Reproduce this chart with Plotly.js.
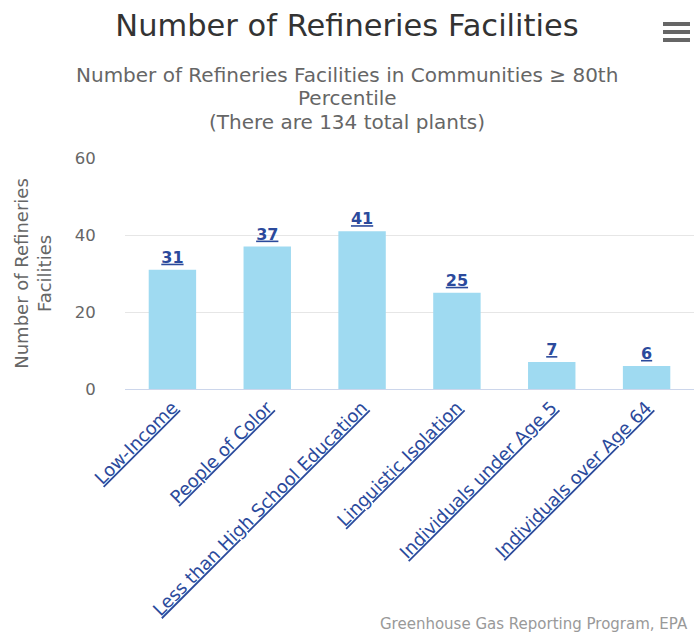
<!DOCTYPE html>
<html>
<head>
<meta charset="utf-8">
<script src="https://cdn.plot.ly/plotly-3.0.1.min.js"></script>
<style>html,body{margin:0;padding:0;background:#fff;overflow:hidden;}#chart{width:694px;height:633px;}</style>
</head>
<body>
<div id="chart"></div>
<script>
const categories = ["Low-Income", "People of Color", "Less than High School Education", "Linguistic Isolation", "Individuals under Age 5", "Individuals over Age 64"];
const values = [31, 37, 41, 25, 7, 6];
const yTicks = [0, 20, 40, 60];
const subtitleLines = ["Number of Refineries Facilities in Communities ≥ 80th", "Percentile", "(There are 134 total plants)"];

const FONT = "DejaVu Sans, sans-serif";
const linkColor = "#2b4a9c";

const trace = {
  type: "bar",
  x: categories,
  y: values,
  marker: {color: "#9fdaf1"},
  text: values.map(v => "<b><u>" + v + "</u></b>"),
  textposition: "outside",
  textfont: {family: FONT, size: 16, color: linkColor},
  cliponaxis: false,
  hoverinfo: "x+y"
};

const layout = {
  width: 694, height: 633,
  margin: {l: 125, r: 0, t: 158, b: 244},
  paper_bgcolor: "#fff", plot_bgcolor: "#fff",
  font: {family: FONT, color: "#666"},
  bargap: 0.5,
  showlegend: false,
  title: {
    text: "Number of Refineries Facilities",
    font: {family: FONT, size: 30.5, color: "#333"},
    x: 0.5, xanchor: "center", xref: "container",
    y: 0.96, yanchor: "middle"
  },
  xaxis: {
    tickvals: categories,
    ticktext: categories.map(c => "<u>" + c + "</u>"),
    tickangle: -45,
    tickfont: {family: FONT, size: 18, color: linkColor},
    showgrid: false,
    showline: true, linecolor: "#ccd6eb", linewidth: 1,
    ticks: "", automargin: false
  },
  yaxis: {
    range: [0, 60],
    tickvals: yTicks,
    tickfont: {family: FONT, size: 16.5, color: "#666"},
    gridcolor: "#e6e6e6",
    zeroline: false,
    ticks: "outside", ticklen: 25, tickcolor: "rgba(0,0,0,0)",
    automargin: false,
    title: {text: "Number of Refineries<br>Facilities", font: {family: FONT, size: 18, color: "#666"}, standoff: 18}
  },
  annotations: subtitleLines.map((t, i) => ({
     text: t,
     xref: "paper", yref: "paper", x: (347 - 125) / 569, y: 1, yshift: 158 - [75, 98, 122][i],
     xanchor: "center", yanchor: "middle",
     showarrow: false, font: {family: FONT, size: 20, color: "#666"}
  })).concat([
    {text: "Greenhouse Gas Reporting Program, EPA",
     xref: "paper", yref: "paper", x: 1, y: 0, yshift: -235, xshift: -4, xanchor: "right", yanchor: "middle",
     showarrow: false, font: {family: FONT, size: 15, color: "#999"}}
  ]),
  shapes: [0, 1, 2].map(i => ({
    type: "line", xref: "paper", yref: "paper", xsizemode: "pixel", ysizemode: "pixel",
    xanchor: 1, yanchor: 1,
    x0: -31, x1: -4, y0: 134 - i * 8, y1: 134 - i * 8,
    line: {color: "#666", width: 4}
  }))
};

Plotly.newPlot("chart", [trace], layout, {displayModeBar: false, responsive: false});
</script>
</body>
</html>
